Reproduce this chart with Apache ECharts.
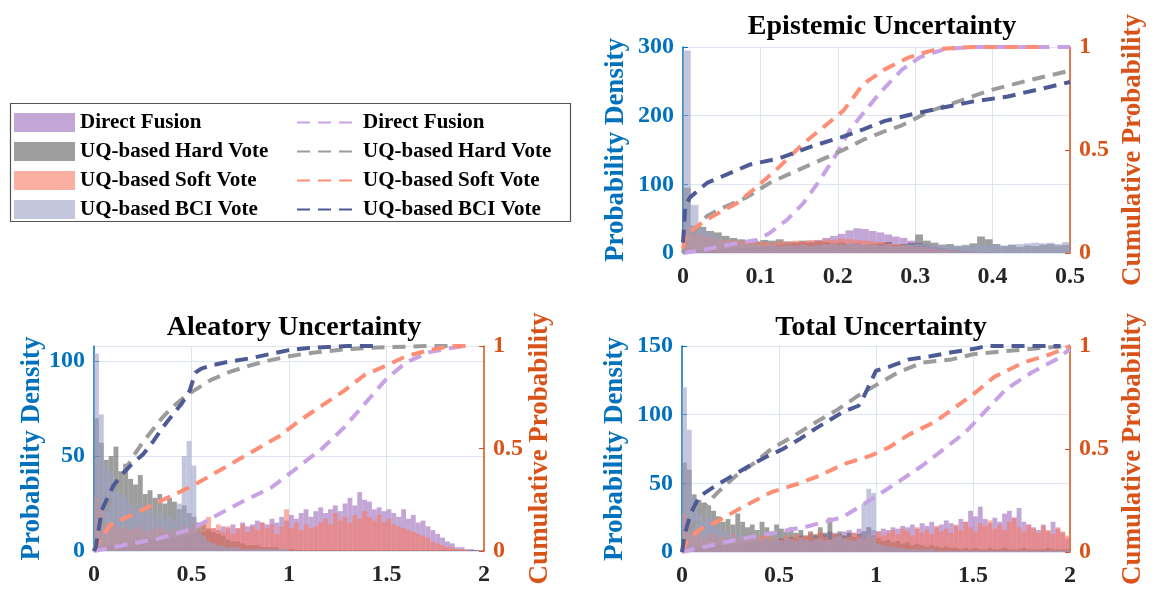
<!DOCTYPE html>
<html>
<head>
<meta charset="utf-8">
<script src="https://cdn.jsdelivr.net/npm/echarts@6/dist/echarts.min.js"></script>
<style>html,body{margin:0;padding:0;background:#fff;}#c{width:1157px;height:590px;}</style>
</head>
<body>
<div id="c"></div>
<script>
// ---------------- DATA ----------------
const seriesNames = ['Direct Fusion', 'UQ-based Hard Vote', 'UQ-based Soft Vote', 'UQ-based BCI Vote'];
const panelTitles = ['Epistemic Uncertainty', 'Aleatory Uncertainty', 'Total Uncertainty'];
const xTicksEpi = [0, 0.5, 0.1];   // min, max, step
const xTicksAT = [0, 2, 0.5];
const epiBinWidth = 0.01;
const atBinWidth = 0.025;

// Epistemic histograms (50 bins, 0..0.5)
const epiHistDirect = [3,4,4,5,5,6,7,7,8,9,10,11,12,13,14,16,17,19,22,25,28,33,36,35,32,30,27,24,22,18,15,12,9,7,5,4,3,2,1,1,0.5,0,0,0,0,0,0,0,0,0];
const epiHistHard = [95,40,38,32,30,25,22,20,18,17,19,18,20,17,16,18,15,17,16,14,15,13,14,12,13,14,16,12,13,15,27,18,15,12,13,10,11,14,24,20,13,10,12,9,11,10,12,13,11,12];
const epiHistSoft = [35,30,26,23,21,19,18,17,16,15,16,15,17,16,18,17,19,18,20,19,21,20,19,18,17,16,14,13,12,10,9,8,6,5,4,3,2,1,1,0.5,0,0,0,0,0,0,0,0,0,0];
const epiHistBCI = [295,70,36,28,22,18,16,14,12,12,11,12,10,11,10,12,10,11,12,13,12,14,13,12,12,11,12,10,11,12,13,12,11,12,10,11,12,10,11,12,13,11,12,13,14,15,14,15,13,16];

// Aleatory histograms (80 bins, 0..2)
const alHistDirect = [2,2,3,3,3,4,4,4,5,5,5,6,6,6,7,7,7,8,8,9,9,10,10,11,12,11,13,12,14,12,15,13,14,16,15,14,17,15,18,16,19,17,20,22,18,21,23,20,22,24,21,25,28,24,31,27,26,22,23,21,22,20,18,22,17,19,15,16,13,11,9,7,5,4,2,2,1,1,0.5,0];
const alHistHard = [70,57,48,50,55,42,46,38,35,40,30,32,28,30,25,28,26,22,24,20,18,15,14,12,10,9,8,6,5,5,4,3,3,3,2,2,2,2,1,1,1,0.5,0.5,0.5,0.5,0.5,0.5,0.5,0.5,0.5,0.5,0.5,0.5,0.5,0.5,0.5,0.5,0.5,0.5,0.5,0.5,0.5,0.5,0.5,0.5,0.5,0.5,0.5,0.5,0.5,0.5,0.5,0.5,0.5,0.5,0.5,0.5,0.5,0.5,0.5];
const alHistSoft = [28,22,15,13,14,12,13,11,12,13,10,12,11,13,12,10,12,11,13,12,14,11,15,18,12,14,10,13,9,12,14,10,13,11,15,12,14,9,13,22,12,15,11,14,12,13,15,17,14,20,16,18,15,19,17,21,18,16,19,15,17,14,13,12,11,10,9,8,7,5,4,3,2,2,1,1,0.5,0,0,0];
const alHistBCI = [104,72,45,42,35,30,28,25,22,24,20,22,18,20,17,18,16,25,50,58,45,10,8,5,4,3,3,2,2,2,1,1,1,1,1,1,1,1,1,1,0,0,0,0,0,0,0,0,0,0,0,0,0,0,0,0,0,0,0,0,0,0,0,0,0,0,0,0,0,0,0,0,0,0,0,0,0,0,0,0];

// Total histograms (80 bins, 0..2)
const totHistDirect = [2,2,3,3,3,4,4,5,5,5,6,6,6,7,7,8,8,9,8,9,10,9,11,10,12,11,13,12,14,13,15,14,13,15,16,14,17,15,18,16,15,17,16,18,17,19,18,20,17,21,19,22,18,20,23,21,19,24,22,30,26,33,24,21,25,22,28,30,25,32,22,20,18,16,20,15,22,17,14,10];
const totHistHard = [65,60,42,38,36,34,30,26,22,24,20,28,22,18,20,16,22,18,15,20,17,15,18,14,16,12,15,13,18,14,25,13,15,12,14,11,13,15,18,12,10,8,9,7,8,6,7,5,6,5,4,5,4,3,4,3,3,2,3,2,3,2,2,3,2,2,3,2,2,2,3,2,2,2,2,3,2,2,2,2];
const totHistSoft = [28,20,12,15,10,13,14,11,12,10,13,11,9,12,10,11,12,13,10,11,9,12,10,13,11,12,14,10,15,11,9,13,12,10,11,14,12,10,13,11,15,12,14,16,13,17,15,12,18,14,16,13,19,15,17,14,20,16,22,18,15,21,19,23,17,20,16,22,25,18,15,20,17,14,19,16,13,18,15,12];
const totHistBCI = [120,89,40,28,22,25,20,18,15,14,12,13,11,12,10,11,9,10,9,11,8,10,9,8,10,9,8,9,10,8,9,11,12,10,9,8,10,35,46,43,6,5,4,4,3,3,2,2,2,2,2,2,1,1,1,1,1,1,1,1,1,1,1,1,1,1,1,1,1,1,1,1,1,1,1,1,1,1,1,1];

// CDF curves [x, cumulative probability]
const epiCdfDirect = [[0,0],[0.026,0.015],[0.069,0.047],[0.095,0.063],[0.112,0.097],[0.134,0.16],[0.155,0.24],[0.177,0.355],[0.199,0.485],[0.216,0.6],[0.233,0.68],[0.255,0.78],[0.283,0.89],[0.306,0.95],[0.338,0.99],[0.374,1],[0.5,1]];
const epiCdfHard = [[0,0],[0.003,0.05],[0.031,0.18],[0.052,0.22],[0.082,0.27],[0.112,0.34],[0.147,0.4],[0.177,0.45],[0.207,0.5],[0.233,0.55],[0.26,0.59],[0.283,0.62],[0.32,0.69],[0.351,0.73],[0.397,0.79],[0.443,0.835],[0.5,0.885]];
const epiCdfSoft = [[0,0.02],[0.003,0.08],[0.018,0.13],[0.039,0.18],[0.069,0.24],[0.095,0.32],[0.125,0.42],[0.155,0.53],[0.181,0.61],[0.207,0.69],[0.233,0.82],[0.26,0.89],[0.292,0.95],[0.328,0.99],[0.374,1],[0.46,1]];
const epiCdfBCI = [[0,0.05],[0.003,0.23],[0.009,0.27],[0.031,0.34],[0.087,0.43],[0.125,0.46],[0.168,0.52],[0.207,0.565],[0.233,0.6],[0.26,0.64],[0.292,0.67],[0.328,0.7],[0.374,0.735],[0.42,0.76],[0.466,0.8],[0.5,0.83]];

const alCdfDirect = [[0,0],[0.16,0.03],[0.33,0.06],[0.51,0.11],[0.62,0.17],[0.76,0.24],[0.91,0.31],[1.02,0.39],[1.17,0.5],[1.28,0.6],[1.39,0.72],[1.5,0.84],[1.6,0.92],[1.72,0.97],[1.83,0.99],[1.9,1]];
const alCdfHard = [[0,0],[0.02,0.08],[0.05,0.16],[0.1,0.28],[0.15,0.38],[0.2,0.46],[0.25,0.53],[0.3,0.59],[0.35,0.65],[0.4,0.7],[0.45,0.74],[0.5,0.775],[0.6,0.835],[0.7,0.875],[0.8,0.905],[0.9,0.93],[1,0.95],[1.1,0.965],[1.2,0.975],[1.3,0.985],[1.4,0.99],[1.5,0.995],[1.6,0.997],[1.7,1],[1.85,1]];
const alCdfSoft = [[0,0],[0.033,0.06],[0.088,0.13],[0.18,0.17],[0.29,0.22],[0.4,0.27],[0.51,0.32],[0.62,0.38],[0.73,0.44],[0.84,0.5],[0.95,0.56],[1.06,0.64],[1.17,0.71],[1.28,0.78],[1.39,0.86],[1.5,0.905],[1.6,0.95],[1.72,0.98],[1.83,1],[1.92,1]];
const alCdfBCI = [[0,0],[0.01,0.02],[0.04,0.2],[0.1,0.32],[0.15,0.38],[0.2,0.43],[0.25,0.47],[0.3,0.53],[0.35,0.6],[0.4,0.66],[0.45,0.72],[0.49,0.78],[0.52,0.87],[0.55,0.89],[0.6,0.905],[0.7,0.925],[0.8,0.94],[0.9,0.96],[1,0.98],[1.1,0.99],[1.2,0.995],[1.3,1],[1.45,1]];

const totCdfDirect = [[0,0],[0.093,0.02],[0.28,0.06],[0.46,0.09],[0.65,0.125],[0.83,0.17],[1,0.27],[1.13,0.35],[1.24,0.42],[1.35,0.5],[1.46,0.58],[1.56,0.68],[1.67,0.79],[1.8,0.87],[1.93,0.935],[2,0.985]];
const totCdfHard = [[0,0],[0.037,0.09],[0.093,0.2],[0.185,0.29],[0.278,0.37],[0.37,0.43],[0.46,0.5],[0.57,0.56],[0.69,0.63],[0.8,0.69],[0.91,0.76],[1,0.81],[1.11,0.87],[1.24,0.92],[1.39,0.935],[1.5,0.96],[1.67,0.975],[1.85,0.99],[2,1]];
const totCdfSoft = [[0,0],[0.028,0.06],[0.093,0.11],[0.185,0.15],[0.315,0.22],[0.46,0.29],[0.61,0.335],[0.72,0.375],[0.83,0.425],[0.98,0.47],[1.07,0.51],[1.17,0.57],[1.3,0.63],[1.39,0.69],[1.5,0.765],[1.61,0.85],[1.76,0.92],[1.9,0.96],[2,1]];
const totCdfBCI = [[0,0],[0.015,0.09],[0.046,0.19],[0.09,0.27],[0.17,0.32],[0.26,0.37],[0.35,0.42],[0.43,0.46],[0.52,0.5],[0.61,0.55],[0.69,0.6],[0.76,0.64],[0.83,0.68],[0.91,0.71],[0.94,0.76],[1,0.88],[1.07,0.9],[1.17,0.935],[1.28,0.95],[1.39,0.97],[1.5,0.985],[1.57,1],[1.95,1]];

const leftMax = [300, 108, 150];
const leftStep = [100, 50, 50];

// ---------------- STYLE ----------------
const FONT = "'Liberation Serif','Times New Roman',serif";
const barColors = ['rgba(157,107,187,0.6)', 'rgba(93,93,93,0.6)', 'rgba(248,122,97,0.6)', 'rgba(155,160,197,0.6)'];
const lineColors = ['#C9A2E6', '#9C9C9C', '#FF8E77', '#4D5A96'];
const BLUE = '#0072BD', ORANGE = '#D95319', GRIDC = '#DCE5F0';
const grids = [
  {left: 683, top: 47, width: 387, height: 206},
  {left: 94, top: 346, width: 390, height: 205},
  {left: 682, top: 346, width: 388, height: 206}
];
const nameGapsL = [53, 48, 53];
const nameGapsR = [50, 41, 50];

const histData = [
  [epiHistDirect, epiHistHard, epiHistSoft, epiHistBCI],
  [alHistDirect, alHistHard, alHistSoft, alHistBCI],
  [totHistDirect, totHistHard, totHistSoft, totHistBCI]
];
const cdfData = [
  [epiCdfDirect, epiCdfHard, epiCdfSoft, epiCdfBCI],
  [alCdfDirect, alCdfHard, alCdfSoft, alCdfBCI],
  [totCdfDirect, totCdfHard, totCdfSoft, totCdfBCI]
];
const binWidths = [epiBinWidth, atBinWidth, atBinWidth];
const xTicks = [xTicksEpi, xTicksAT, xTicksAT];

const xAxes = [], yAxes = [], series = [];
grids.forEach((g, gi) => {
  xAxes.push({
    type: 'value', gridIndex: gi, min: xTicks[gi][0], max: xTicks[gi][1], interval: xTicks[gi][2],
    axisLine: {show: false}, axisTick: {show: false},
    splitLine: {show: true, lineStyle: {color: GRIDC, width: 1}},
    axisLabel: {fontFamily: FONT, fontWeight: 'bold', fontSize: 24, color: '#262626', margin: 12}
  });
  yAxes.push({
    type: 'value', gridIndex: gi, position: 'left', min: 0, max: leftMax[gi], interval: leftStep[gi],
    name: 'Probability Density', nameLocation: 'middle', nameRotate: 90, nameGap: nameGapsL[gi],
    nameTextStyle: {fontFamily: FONT, fontWeight: 'bold', fontSize: 27, color: BLUE},
    axisLine: {show: true, lineStyle: {color: BLUE, width: 1.5}},
    axisTick: {show: true, inside: true, length: 5, lineStyle: {color: BLUE}},
    splitLine: {show: true, lineStyle: {color: GRIDC, width: 1}},
    axisLabel: {fontFamily: FONT, fontWeight: 'bold', fontSize: 24, color: BLUE, margin: 9, showMaxLabel: leftMax[gi] % leftStep[gi] === 0}
  });
  yAxes.push({
    type: 'value', gridIndex: gi, position: 'right', min: 0, max: 1, interval: 0.5,
    name: 'Cumulative Probability', nameLocation: 'middle', nameRotate: 90, nameGap: nameGapsR[gi],
    nameTextStyle: {fontFamily: FONT, fontWeight: 'bold', fontSize: 27, color: ORANGE},
    axisLine: {show: true, lineStyle: {color: ORANGE, width: 1.5}},
    axisTick: {show: true, inside: true, length: 5, lineStyle: {color: ORANGE}},
    splitLine: {show: false},
    axisLabel: {fontFamily: FONT, fontWeight: 'bold', fontSize: 24, color: ORANGE, margin: 9}
  });
  const bw = binWidths[gi];
  histData[gi].forEach((vals, si) => {
    series.push({
      type: 'custom', name: seriesNames[si], xAxisIndex: gi, yAxisIndex: gi * 2,
      data: vals.map((v, i) => [i * bw, v]),
      itemStyle: {color: barColors[si]}, silent: true, clip: true, z: 2 + si,
      renderItem: (params, api) => {
        const x0 = api.value(0), v = api.value(1);
        const p0 = api.coord([x0, 0]);
        const p1 = api.coord([x0 + bw, v]);
        return {type: 'rect', shape: {x: p0[0], y: p1[1], width: p1[0] - p0[0], height: p0[1] - p1[1]},
                style: {fill: barColors[si]}};
      }
    });
  });
  cdfData[gi].forEach((pts, si) => {
    series.push({
      type: 'line', name: seriesNames[si] + ' (CDF)', xAxisIndex: gi, yAxisIndex: gi * 2 + 1,
      data: pts, symbol: 'none', showSymbol: false, silent: true, z: 10 + si,
      lineStyle: {color: lineColors[si], width: 4, type: [13, 8]},
      itemStyle: {color: lineColors[si]}
    });
  });
});

const titleCenters = [[877, 8], [289, 309], [876, 309]];
const option = {
  animation: false,
  backgroundColor: '#fff',
  title: panelTitles.map((t, i) => ({
    text: t, left: titleCenters[i][0], top: titleCenters[i][1], textAlign: 'center',
    textStyle: {fontFamily: FONT, fontWeight: 'bold', fontSize: 28, color: '#000'}
  })),
  grid: grids,
  xAxis: xAxes,
  yAxis: yAxes,
  legend: [
    {
      orient: 'vertical', left: 9, top: 107, itemWidth: 61, itemHeight: 19, itemGap: 8,
      selectedMode: false,
      textStyle: {fontFamily: FONT, fontWeight: 'bold', fontSize: 21, color: '#000'},
      data: seriesNames.map((n, i) => ({name: n, icon: 'rect', itemStyle: {color: barColors[i]}}))
    },
    {
      orient: 'vertical', left: 291, top: 107, itemWidth: 61, itemHeight: 19, itemGap: 8,
      selectedMode: false,
      itemStyle: {opacity: 0},
      textStyle: {fontFamily: FONT, fontWeight: 'bold', fontSize: 21, color: '#000'},
      formatter: (name) => name.replace(' (CDF)', ''),
      data: seriesNames.map((n) => n + ' (CDF)')
    }
  ],
  graphic: [{
    type: 'rect', left: 8, top: 101, z: 0,
    shape: {width: 560, height: 118},
    style: {fill: 'none', stroke: '#555', lineWidth: 1.2}
  }],
  series: series
};
const chart = echarts.init(document.getElementById('c'), null, {renderer: 'canvas'});
chart.setOption(option);
</script>
</body>
</html>
